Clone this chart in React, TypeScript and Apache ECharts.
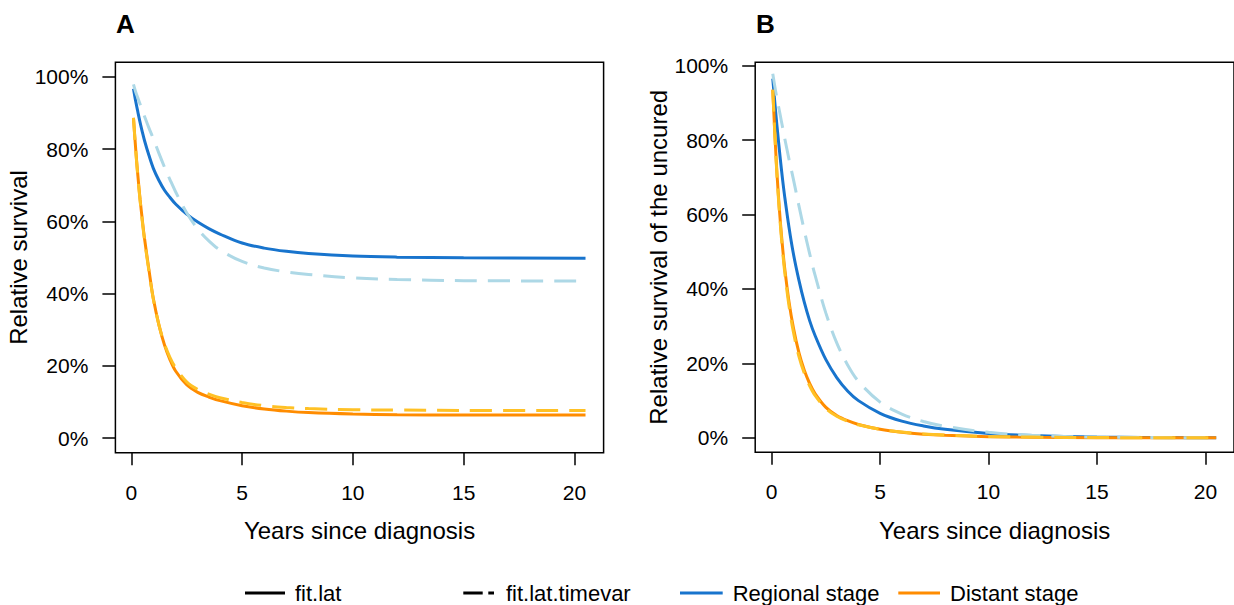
import React, { useEffect, useRef } from 'react';
import * as echarts from 'echarts';

// ---------- data ----------
const yearsA = [0.1, 0.2, 0.3, 0.4, 0.5, 0.6, 0.8, 1, 1.25, 1.5, 1.75, 2, 2.5, 3, 3.5, 4, 5, 6, 7, 8, 10, 12, 15, 20.5];
const yearsB = [0.05, 0.2, 0.3, 0.4, 0.5, 0.6, 0.8, 1, 1.25, 1.5, 1.75, 2, 2.5, 3, 3.5, 4, 5, 6, 7, 8, 10, 12, 15, 20.5];

// Panel A: relative survival (%)
const regionalLatA = [96.7, 93.2, 90.2, 87.3, 84.7, 82.3, 78.2, 74.6, 71.3, 68.6, 66.6, 64.8, 62.0, 59.8, 58.0, 56.5, 54.0, 52.6, 51.7, 51.1, 50.4, 50.1, 49.9, 49.8];
const regionalTimevarA = [97.9, 95.8, 94.1, 92.4, 90.7, 89.0, 85.8, 82.8, 78.8, 75.0, 71.5, 68.2, 62.4, 57.9, 54.6, 52.1, 48.9, 47.1, 46.0, 45.3, 44.35, 43.9, 43.6, 43.5];
const distantLatA = [88.6, 80.0, 72.5, 66.0, 60.3, 55.2, 46.5, 38.5, 31.3, 25.8, 21.7, 18.6, 14.8, 12.7, 11.4, 10.4, 9.0, 8.1, 7.5, 7.1, 6.7, 6.5, 6.42, 6.4];
const distantTimevarA = [88.6, 79.7, 72.1, 65.6, 59.9, 54.8, 46.1, 38.3, 31.3, 26.1, 22.3, 19.5, 15.6, 13.5, 12.2, 11.2, 9.9, 9.0, 8.5, 8.2, 7.9, 7.8, 7.7, 7.7];

// Panel B: relative survival of the uncured (%)
const regionalLatB = [96.5, 86.5, 80.5, 74.8, 69.5, 64.8, 56.5, 49.5, 42.5, 36.5, 31.5, 27.5, 21.0, 16.2, 12.6, 10.0, 6.6, 4.5, 3.2, 2.3, 1.2, 0.6, 0.2, 0.0];
const regionalTimevarB = [97.8, 92.5, 89.5, 86.5, 83.5, 80.5, 74.8, 69.5, 62.5, 55.8, 49.5, 43.7, 33.5, 25.5, 19.6, 15.2, 9.6, 6.4, 4.4, 3.1, 1.5, 0.7, 0.2, 0.0];
const distantLatB = [93.5, 75.5, 66.0, 58.0, 51.3, 45.6, 36.5, 29.6, 23.0, 18.2, 14.6, 11.9, 8.2, 6.0, 4.6, 3.6, 2.3, 1.5, 1.0, 0.7, 0.33, 0.16, 0.06, 0.0];
const distantTimevarB = [93.5, 75.0, 65.3, 57.2, 50.4, 44.6, 35.4, 28.5, 22.0, 17.4, 14.0, 11.4, 7.9, 5.8, 4.45, 3.5, 2.3, 1.55, 1.05, 0.75, 0.37, 0.2, 0.08, 0.0];

const xTicks = [0, 5, 10, 15, 20];
const yTicks = [0, 20, 40, 60, 80, 100];
const panelLabels = ['A', 'B'];
const yTitles = ['Relative survival', 'Relative survival of the uncured'];
const xTitle = 'Years since diagnosis';
const legendLabels = ['fit.lat', 'fit.lat.timevar', 'Regional stage', 'Distant stage'];

// ---------- styles ----------
const FONT = '"Liberation Sans", Arial, Helvetica, sans-serif';
const BLUE = '#1874CD';
const LIGHTBLUE = '#ADD8E6';
const ORANGE = '#FF8C00';
const YELLOW = '#FFC125';
const DASH = [22, 11];

const zip = (xs: number[], ys: number[]) => xs.map((x, i) => [x, ys[i]]);

function lineSeries(idx: number, name: string, xs: number[], ys: number[], color: string, dashed: boolean) {
  return {
    type: 'line',
    name,
    xAxisIndex: idx,
    yAxisIndex: idx,
    data: zip(xs, ys),
    showSymbol: false,
    symbol: 'none',
    smooth: 0.35,
    lineStyle: { color, width: 3, type: dashed ? DASH : 'solid', cap: 'butt' },
    silent: true,
  };
}

function xAxis(idx: number, min: number, max: number) {
  return {
    type: 'value',
    gridIndex: idx,
    min,
    max,
    axisLine: { show: false, onZero: false },
    axisTick: { show: true, inside: false, length: 12.5, customValues: xTicks, lineStyle: { color: '#000', width: 1.5 } },
    axisLabel: { customValues: xTicks, margin: 29, fontSize: 21, color: '#000', fontFamily: FONT },
    splitLine: { show: false },
    name: xTitle,
    nameLocation: 'middle',
    nameGap: 66,
    nameTextStyle: { fontSize: 24, color: '#000', fontFamily: FONT },
  };
}

function yAxis(idx: number, min: number, max: number, title: string) {
  return {
    type: 'value',
    gridIndex: idx,
    min,
    max,
    axisLine: { show: false, onZero: false },
    axisTick: { show: true, inside: false, length: 13, customValues: yTicks, lineStyle: { color: '#000', width: 1.5 } },
    axisLabel: { customValues: yTicks, margin: 27, fontSize: 21, color: '#000', fontFamily: FONT, formatter: '{value}%' },
    splitLine: { show: false },
    name: title,
    nameLocation: 'middle',
    nameGap: 72,
    nameTextStyle: { fontSize: 24, color: '#000', fontFamily: FONT },
  };
}

export default function App() {
  const ref = useRef<HTMLDivElement>(null);
  useEffect(() => {
    if (!ref.current) return;
    const chart = echarts.init(ref.current, undefined, { renderer: 'svg' });
    const legendY = 593;
    const option = {
      animation: false,
      backgroundColor: '#fff',
      grid: [
        { left: 115.4, top: 62.3, width: 488.2, height: 390.4, show: true, borderColor: '#000', borderWidth: 1.5, containLabel: false },
        { left: 755.2, top: 62.3, width: 491.3, height: 390, show: true, borderColor: '#000', borderWidth: 1.5, containLabel: false },
      ],
      xAxis: [xAxis(0, -0.716, 21.316), xAxis(1, -0.76, 21.32)],
      yAxis: [yAxis(0, -4, 104, yTitles[0]), yAxis(1, -3.88, 100.88, yTitles[1])],
      series: [
        lineSeries(0, 'Regional fit.lat', yearsA, regionalLatA, BLUE, false),
        lineSeries(0, 'Distant fit.lat', yearsA, distantLatA, ORANGE, false),
        lineSeries(0, 'Regional fit.lat.timevar', yearsA, regionalTimevarA, LIGHTBLUE, true),
        lineSeries(0, 'Distant fit.lat.timevar', yearsA, distantTimevarA, YELLOW, true),
        lineSeries(1, 'Regional fit.lat', yearsB, regionalLatB, BLUE, false),
        lineSeries(1, 'Distant fit.lat', yearsB, distantLatB, ORANGE, false),
        lineSeries(1, 'Regional fit.lat.timevar', yearsB, regionalTimevarB, LIGHTBLUE, true),
        lineSeries(1, 'Distant fit.lat.timevar', yearsB, distantTimevarB, YELLOW, true),
      ],
      graphic: [
        { type: 'text', left: 116, top: 11, style: { text: panelLabels[0], font: `bold 26px ${FONT}`, fill: '#000' } },
        { type: 'text', left: 756, top: 11, style: { text: panelLabels[1], font: `bold 26px ${FONT}`, fill: '#000' } },
        // legend
        { type: 'line', shape: { x1: 245, y1: legendY, x2: 285, y2: legendY }, style: { stroke: '#000', lineWidth: 3 } },
        { type: 'text', x: 295, y: legendY, style: { text: legendLabels[0], font: `22px ${FONT}`, fill: '#000', verticalAlign: 'middle' } },
        { type: 'line', shape: { x1: 463.3, y1: legendY, x2: 494, y2: legendY }, style: { stroke: '#000', lineWidth: 3, lineDash: [19.4, 5.6] } },
        { type: 'text', x: 506, y: legendY, style: { text: legendLabels[1], font: `22px ${FONT}`, fill: '#000', verticalAlign: 'middle' } },
        { type: 'line', shape: { x1: 680, y1: legendY, x2: 722.7, y2: legendY }, style: { stroke: BLUE, lineWidth: 3 } },
        { type: 'text', x: 732.7, y: legendY, style: { text: legendLabels[2], font: `22px ${FONT}`, fill: '#000', verticalAlign: 'middle' } },
        { type: 'line', shape: { x1: 898.3, y1: legendY, x2: 940, y2: legendY }, style: { stroke: ORANGE, lineWidth: 3 } },
        { type: 'text', x: 950, y: legendY, style: { text: legendLabels[3], font: `22px ${FONT}`, fill: '#000', verticalAlign: 'middle' } },
      ],
    };
    chart.setOption(option as any);
    return () => chart.dispose();
  }, []);
  return <div ref={ref} style={{ position: 'fixed', left: 0, top: 0, width: 1234, height: 605 }} />;
}
